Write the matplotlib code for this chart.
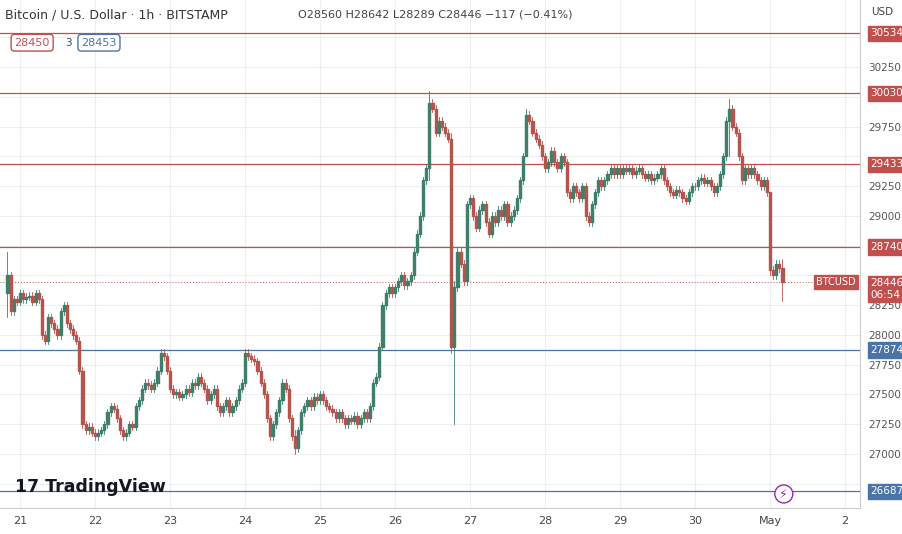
import matplotlib
matplotlib.use("Agg")
import matplotlib.pyplot as plt
from matplotlib.patches import Rectangle

closes = [
 28500,28200,28300,28280,
 28350,28300,28320,28330,28280,28350,28300,28000,27950,28150,28100,28050,28000,28200,28250,28100,28050,28000,27950,27700,27250,27200,27230,27180,
 27150,27180,27200,27250,27350,27400,27380,27300,27200,27150,27180,27250,27230,27400,27450,27550,27600,27580,27550,27600,27700,27850,27820,27700,
 27550,27500,27520,27480,27500,27550,27520,27600,27580,27650,27600,27550,27450,27500,27550,27400,27350,27400,27450,27350,27400,27450,27550,27600,
 27850,27820,27800,27780,27700,27600,27500,27300,27150,27250,27350,27450,27600,27550,27300,27150,27050,27200,27350,27400,27450,27400,27480,27450,
 27500,27450,27400,27380,27350,27300,27350,27300,27250,27300,27280,27320,27250,27300,27350,27300,27400,27600,27650,27900,28250,28350,28400,28350,
 28400,28450,28500,28420,28450,28500,28700,28850,29000,29300,29400,29950,29900,29700,29800,29750,29700,29650,27900,28400,28700,28600,28450,29100,
 29150,29000,28900,29050,29100,28950,28850,29000,28950,29050,29000,29100,28950,29000,29050,29150,29300,29500,29850,29800,29700,29650,29600,29500,
 29400,29450,29550,29450,29400,29500,29450,29200,29150,29250,29200,29150,29250,29000,28950,29100,29200,29300,29250,29300,29350,29400,29350,29400,
 29350,29400,29380,29400,29350,29380,29400,29350,29320,29350,29300,29320,29350,29400,29300,29250,29200,29180,29220,29200,29150,29130,29200,29250,
 29250,29300,29320,29280,29300,29250,29200,29250,29350,29500,29800,29900,29750,29700,29500,29300,29400,29350,29400,29350,29300,29250,29300,29200,
 28550,28500,28600,28560,28446,
]
first_open = 28350
wick_overrides = {  # index: (high, low)
    0: (28700, 28150), 92: (27200, 27000), 135: (30050, 29300),
    142: (29700, 27850), 143: (28450, 27250), 166: (29900, 29500), 231: (29980, 29500),
    244: (29200, 28500), 248: (28642, 28289),
}
red_levels = [30534, 30030, 29433, 28740]
blue_levels = [27874, 26687]
day_labels = ["21", "22", "23", "24", "25", "26", "27", "28", "29", "30", "May", "2"]
price_ticks = [27000, 27250, 27500, 27750, 28000, 28250, 29000, 29250, 29750, 30250]
grid_prices = [26750, 27000, 27250, 27500, 27750, 28000, 28250, 28500, 28750, 29000, 29250, 29500, 29750, 30000, 30250, 30500]

UP, DN = "#3d7f6a", "#b5544c"
RED, BLUE = "#c0504d", "#4a74a8"

fig = plt.figure(figsize=(9.03, 5.34), dpi=100)
ax = fig.add_axes([0, 26/534, 860/903, 508/534])
ax.set_xlim(-2.4, 272.8)
ax.set_ylim(26546, 30815)

for k in range(len(day_labels)):
    ax.axvline(4 + 24*k, color="#eeeeee", lw=0.8, zorder=0)
for p in grid_prices:
    ax.axhline(p, color="#eeeeee", lw=0.8, zorder=0)

prev = first_open
for i, c in enumerate(closes):
    o = prev
    hi, lo = wick_overrides.get(i, (max(o, c) + 30, min(o, c) - 30))
    col = UP if c >= o else DN
    ax.plot([i, i], [lo, hi], color=col, lw=0.6, zorder=2)
    ax.add_patch(Rectangle((i - 0.35, min(o, c)), 0.7, max(abs(c - o), 6), color=col, zorder=3))
    prev = c

for lv in red_levels:
    ax.axhline(lv, color=RED, lw=0.9, zorder=1)
for lv in blue_levels:
    ax.axhline(lv, color=BLUE, lw=0.9, zorder=1)
last = closes[-1]
ax.axhline(last, color="#b5544c", lw=0.7, ls=(0, (1, 2)), zorder=1)

for s in ax.spines.values():
    s.set_visible(False)
ax.spines["right"].set_visible(True); ax.spines["right"].set_color("#cccccc")
ax.spines["bottom"].set_visible(True); ax.spines["bottom"].set_color("#cccccc")
ax.yaxis.tick_right()
ax.set_yticks(price_ticks)
ax.set_yticklabels([str(p) for p in price_ticks], fontsize=7.5, color="#555555")
ax.set_xticks([4 + 24*k for k in range(len(day_labels))])
ax.set_xticklabels(day_labels, fontsize=8, color="#444444")
ax.tick_params(length=0, pad=6)

def tag(price, text, fc):
    ax.text(1.012, price, text, transform=ax.get_yaxis_transform(), fontsize=7.5, color="white",
            va="center", ha="left", zorder=10,
            bbox=dict(boxstyle="square,pad=0.25", fc=fc, ec=fc))
for lv in red_levels:
    tag(lv, str(lv), RED)
for lv in blue_levels:
    tag(lv, str(lv), BLUE)
tag(last - 60, f"{last}\n06:54", "#c0504d")
ax.text(0.995, last, "BTCUSD", transform=ax.get_yaxis_transform(), fontsize=7, color="white",
        va="center", ha="right", zorder=10, bbox=dict(boxstyle="square,pad=0.2", fc="#c0504d", ec="#c0504d"))

fig.text(0.005, 0.972, "Bitcoin / U.S. Dollar · 1h · BITSTAMP", fontsize=9, color="#333333", va="center")
fig.text(0.33, 0.972, "O28560 H28642 L28289 C28446 −117 (−0.41%)", fontsize=8, color="#444444", va="center")
fig.text(0.016, 0.92, "28450", fontsize=8, color=RED, va="center",
         bbox=dict(boxstyle="round,pad=0.3", fc="white", ec=RED))
fig.text(0.072, 0.92, "3", fontsize=7.5, color="#444444", va="center")
fig.text(0.09, 0.92, "28453", fontsize=8, color=BLUE, va="center",
         bbox=dict(boxstyle="round,pad=0.3", fc="white", ec=BLUE))
fig.text(0.965, 0.978, "USD", fontsize=7.5, color="#444444", va="center")
fig.text(0.017, 0.088, "17 TradingView", fontsize=12.5, fontweight="bold", color="#131722", va="center")
fig.text(0.868, 0.075, "⚡", fontsize=9, color="#9c27b0", va="center", ha="center",
         bbox=dict(boxstyle="circle,pad=0.2", fc="white", ec="#9c27b0"))
fig.savefig("out.png", dpi=100)
